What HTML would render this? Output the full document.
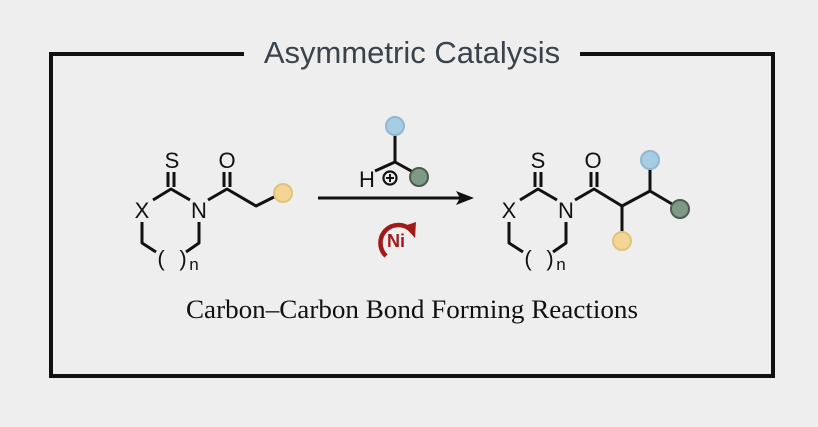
<!DOCTYPE html>
<html><head><style>
html,body{margin:0;padding:0;background:#eeeeee;}
svg{display:block}
</style></head><body>
<svg width="818" height="427" viewBox="0 0 818 427" xmlns="http://www.w3.org/2000/svg">
<rect width="818" height="427" fill="#eeeeee"/>
<g fill="none" stroke="#111" stroke-width="4" stroke-linecap="square">
<path d="M242 54 H51 V376 H773 V54 H582"/>
</g>
<text x="412" y="63" text-anchor="middle" font-family="Liberation Sans, sans-serif" font-size="31" fill="#3a424c">Asymmetric Catalysis</text>

<g font-family="Liberation Sans, sans-serif" font-size="22" fill="#111" text-anchor="middle">
<text x="172" y="168">S</text>
<text x="227" y="168">O</text>
<text x="142" y="218">X</text>
<text x="199" y="218">N</text>
<text x="161" y="266">(</text>
<text x="183" y="266">)</text>
<text x="194" y="270" font-size="17">n</text>
<text x="538" y="168">S</text>
<text x="593" y="168">O</text>
<text x="509" y="218">X</text>
<text x="566" y="218">N</text>
<text x="528" y="266">(</text>
<text x="550" y="266">)</text>
<text x="561" y="270" font-size="17">n</text>
<text x="367" y="187">H</text>
</g>
<g fill="none" stroke="#111" stroke-width="3" stroke-linejoin="round">
<path d="M168 172 V187 M174 172 V187"/>
<path d="M153 200 L171 189 L190 200"/>
<path d="M142 222 V243 L156 252"/>
<path d="M199 222 V243 L186 252"/>
<path d="M208 200 L227 189 L256 206 L276 196"/>
<path d="M224 172 V187 M230 172 V187"/>
<path d="M535 172 V187 M541 172 V187"/>
<path d="M520 200 L538 189 L557 200"/>
<path d="M509 222 V243 L523 252"/>
<path d="M566 222 V243 L553 252"/>
<path d="M575 200 L594 189 L622 206 L650 191 L672 204"/>
<path d="M591 172 V187 M597 172 V187"/>
<path d="M622 206 V232 M650 191 V168"/>
<path d="M375 171 L395 162 L413 172 M395 162 V133"/>
<path d="M318 198 H462"/>
</g>
<path d="M474 198 L456 191 L460 198 L456 205 Z" fill="#111"/>
<circle cx="390" cy="178" r="6.5" fill="none" stroke="#111" stroke-width="2.2"/>
<path d="M386 178 H394 M390 174 V182" stroke="#111" stroke-width="2"/>
<g stroke-width="2">
<circle cx="283" cy="193" r="9" fill="#f3d594" stroke="#e2c27c"/>
<circle cx="395" cy="126" r="9" fill="#a7cde5" stroke="#90b8d0"/>
<circle cx="419" cy="177" r="9" fill="#7e9a86" stroke="#4c5c50"/>
<circle cx="622" cy="241" r="9" fill="#f3d594" stroke="#e2c27c"/>
<circle cx="650" cy="160" r="9" fill="#a7cde5" stroke="#90b8d0"/>
<circle cx="680" cy="209" r="9" fill="#7e9a86" stroke="#4c5c50"/>
</g>
<path d="M386 256 A18 18 0 1 1 411 230" fill="none" stroke="#a11a1a" stroke-width="4.5"/>
<path d="M404 226 L416 222 L415 238 Z" fill="#a11a1a"/>
<text x="396" y="247" text-anchor="middle" font-family="Liberation Sans, sans-serif" font-weight="bold" font-size="18" fill="#a11a1a">Ni</text>

<text x="412" y="318" text-anchor="middle" font-family="Liberation Serif, serif" font-size="26" fill="#111" textLength="452" lengthAdjust="spacingAndGlyphs">Carbon–Carbon Bond Forming Reactions</text>
</svg>
</body></html>
